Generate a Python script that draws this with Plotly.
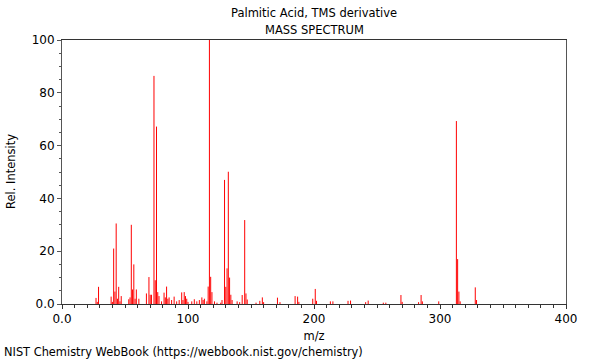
import plotly.graph_objects as go

mz = [27, 28, 29, 39, 40, 41, 42, 43, 44, 45, 46, 47, 53, 54, 55, 56, 57, 58, 59, 61,
      67, 69, 70, 71, 73, 74, 75, 76, 77, 79, 81, 82, 83, 84, 85, 87, 89, 91, 93, 95,
      96, 97, 98, 99, 100, 103, 105, 107, 109, 111, 112, 113, 115, 116, 117, 118, 119,
      121, 123, 126, 127, 129, 130, 131, 132, 133, 134, 135, 139, 141, 143, 145, 146,
      147, 154, 157, 159, 160, 171, 173, 185, 187, 188, 199, 201, 202, 213, 215, 227,
      229, 241, 243, 255, 257, 269, 270, 283, 285, 286, 299, 313, 314, 315, 316, 328, 329]
intensity = [2.3, 0.8, 6.5, 2.8, 0.8, 21.0, 4.7, 30.5, 2.0, 6.5, 1.0, 3.0, 1.8, 2.5, 30.0,
             5.5, 15.0, 2.0, 5.5, 2.0,
             4.0, 10.2, 3.5, 3.5, 86.4, 9.0, 67.2, 4.5, 3.0, 1.0, 4.3, 2.5, 6.6, 2.0, 2.5,
             1.5, 2.8, 1.0, 1.5, 4.4,
             1.5, 4.5, 3.0, 2.0, 0.8, 1.0, 1.8, 1.0, 1.5, 2.5, 1.5, 2.0, 1.0, 6.6, 100.0,
             10.3, 4.5,
             1.0, 0.5, 0.5, 1.5, 47.0, 6.5, 13.5, 50.1, 10.0, 3.5, 1.5, 1.0, 0.7, 3.4, 31.8,
             4.0,
             1.7, 0.5, 1.2, 2.5, 0.7, 2.4, 0.7, 3.0, 2.8, 0.8, 2.0, 5.7, 1.2, 1.0, 1.0, 1.2,
             1.3, 0.7, 1.3, 0.5, 0.5, 3.4, 0.8, 0.7, 3.4, 1.0, 1.0, 69.3, 17.0, 4.7, 1.0,
             6.3, 1.5]

title_line1 = "Palmitic Acid, TMS derivative"
title_line2 = "MASS SPECTRUM"
x_label = "m/z"
y_label = "Rel. Intensity"
footer = "NIST Chemistry WebBook (https://webbook.nist.gov/chemistry)"
x_tickvals = [0, 100, 200, 300, 400]
x_ticktext = ["0.0", "100", "200", "300", "400"]
y_tickvals = [0, 20, 40, 60, 80, 100]
y_ticktext = ["0.0", "20", "40", "60", "80", "100"]

font = "DejaVu Sans, sans-serif"

# stick spectrum: one vertical segment per peak, separated by None
xs, ys = [], []
for m, v in zip(mz, intensity):
    xs += [m, m, None]
    ys += [0, v, None]

fig = go.Figure()
fig.add_trace(go.Scatter(x=xs, y=ys, mode="lines",
                         line=dict(color="#ff0000", width=1),
                         hoverinfo="skip", connectgaps=False))

fig.update_layout(
    width=600, height=360,
    margin=dict(l=62, r=34, t=40, b=56),
    paper_bgcolor="white", plot_bgcolor="white",
    showlegend=False,
    font=dict(family=font, size=11, color="black"),
    annotations=[
        dict(text=title_line1, x=0.5, y=1, xref="paper", yref="paper",
             xanchor="center", yanchor="bottom", yshift=18, showarrow=False,
             font=dict(size=11.5)),
        dict(text=title_line2, x=0.5, y=1, xref="paper", yref="paper",
             xanchor="center", yanchor="bottom", yshift=1, showarrow=False,
             font=dict(size=11.5)),
        dict(text=y_label, x=0, y=0.5, xref="paper", yref="paper",
             xanchor="center", yanchor="middle", xshift=-51, textangle=-90,
             showarrow=False, font=dict(size=11.5)),
        dict(text=footer, x=0, y=0, xref="paper", yref="paper",
             xanchor="left", yanchor="bottom", showarrow=False,
             xshift=-60, yshift=-57, font=dict(size=11.4)),
    ],
)

fig.update_xaxes(
    range=[0, 400], tickvals=x_tickvals, ticktext=x_ticktext,
    ticks="outside", ticklen=4, tickcolor="#333", showgrid=False, zeroline=False,
    showline=True, linecolor="#333", linewidth=1, mirror=True,
    minor=dict(dtick=10, ticks="outside", ticklen=3, tickcolor="#333", showgrid=False),
    title=dict(text=x_label, font=dict(size=11.5), standoff=6),
    tickfont=dict(size=12),
)
fig.update_yaxes(
    range=[0, 100], tickvals=y_tickvals, ticktext=y_ticktext,
    ticks="outside", ticklen=4, tickcolor="#555", showgrid=False, zeroline=False,
    showline=True, linecolor="#555", linewidth=1, mirror=True,
    minor=dict(dtick=5, ticks="outside", ticklen=2, tickcolor="#555", showgrid=False),
    tickfont=dict(size=12),
)

fig.write_html("out.html",
               config={"displayModeBar": False},
               post_script="document.body.style.margin='0';document.body.style.overflow='hidden';")
